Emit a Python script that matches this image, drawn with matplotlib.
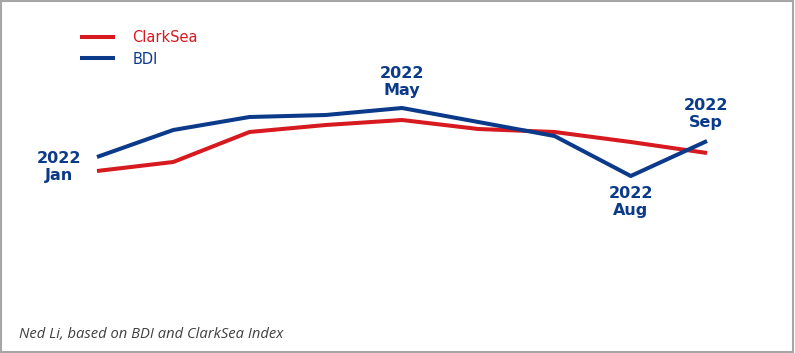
import matplotlib
matplotlib.use("Agg")
import matplotlib.pyplot as plt
from matplotlib.patches import Rectangle

# monthly index levels, Jan..Sep 2022
months = ["Jan", "Feb", "Mar", "Apr", "May", "Jun", "Jul", "Aug", "Sep"]
clarksea = [129, 138, 168, 175, 180, 171, 168, 158, 147]
bdi = [143, 170, 183, 185, 192, 178, 164, 124, 159]

red = "#D71920"
blue = "#0B3A8A"

fig = plt.figure(figsize=(7.95, 3.53), dpi=100)
ax = fig.add_axes([0, 0, 1, 1])
ax.axis("off")

x = range(len(months))
ax.plot(x, clarksea, color=red, lw=2.9, solid_capstyle="butt", label="ClarkSea")
ax.plot(x, bdi, color=blue, lw=2.9, solid_capstyle="butt", label="BDI")

ax.set_xlim(-1.272, 9.154)
ax.set_ylim(-53, 300)

# labels at the key BDI points
notes = {0: (-38, -10), 4: (0, 26), 7: (0, -26), 8: (-1, 27)}
for i, off in notes.items():
    ax.annotate("2022\n" + months[i], xy=(i, bdi[i]), xytext=off,
                textcoords="offset pixels", ha="center", va="center",
                color=blue, fontsize=11.5, fontweight="bold", linespacing=1.15)

leg = ax.legend(loc="upper left", bbox_to_anchor=(80 / 795, 1 - 30 / 353),
                frameon=False, fontsize=10.5, handlelength=2.4,
                handletextpad=1.2, borderaxespad=0, borderpad=0,
                labelspacing=0.45)
for t, c in zip(leg.get_texts(), [red, blue]):
    t.set_color(c)

fig.text(19 / 795, 1 - 334 / 353, "Ned Li, based on BDI and ClarkSea Index",
         fontsize=10.6, style="italic", color="#404040", va="center",
         family="Open Sans")

fig.patches.append(Rectangle((0.001, 0.002), 0.997, 0.995, transform=fig.transFigure,
                             fill=False, edgecolor="#A6A6A6", lw=1.5))

fig.savefig("out.png", dpi=100)
